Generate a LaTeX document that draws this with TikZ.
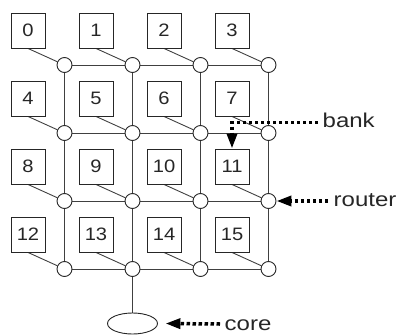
\documentclass[tikz,border=0pt]{standalone}
\usepackage{fontspec}
\setmainfont{Liberation Sans}
\usetikzlibrary{arrows.meta,shapes.geometric,backgrounds}
\newcommand{\wtxt}[1]{\scalebox{1.2}[1]{#1}}
\newcommand{\dtxt}[1]{\scalebox{1.12}[1]{#1}}
\begin{document}
\begin{tikzpicture}[x=1pt,y=-1pt,
  bankbox/.style={draw=black!85, line width=0.9pt, minimum width=34pt, minimum height=35pt, inner sep=0pt, font=\fontsize{18}{18}\selectfont, text=black!85},
  routernode/.style={circle, draw=black!85, fill=white, line width=0.9pt, minimum size=15pt, inner sep=0pt},
  wire/.style={draw=black!75, line width=0.9pt},
  pointer/.style={line width=3.5pt, dash pattern=on 3.5pt off 2.5pt, -{Triangle[length=15pt,width=10pt]}},
  lab/.style={anchor=base west, font=\fontsize{20}{20}\selectfont, inner sep=0pt, text=black!85}]
\useasboundingbox (0,0) rectangle (398,334);
% boxes and routers
\foreach \j in {0,...,3}{
  \foreach \i in {0,...,3}{
    \pgfmathtruncatemacro{\n}{4*\j+\i}
    \node[bankbox] (b\n) at ({28+68*\i},{30.5+68*\j}) {\dtxt{\n}};
    \node[routernode] (r\n) at ({64.5+68*\i},{65+68*\j}) {};
  }
}
% core
\node[ellipse, draw=black!85, line width=0.9pt, minimum width=50pt, minimum height=21pt, inner sep=0pt] (core) at (132.5,323.5) {};
% grid wires
\begin{scope}[on background layer]
\foreach \j in {0,...,3}{
  \foreach \i in {0,1,2}{
    \pgfmathtruncatemacro{\a}{4*\j+\i}
    \pgfmathtruncatemacro{\b}{4*\j+\i+1}
    \draw[wire] (r\a) -- (r\b);
  }
}
\foreach \j in {0,1,2}{
  \foreach \i in {0,...,3}{
    \pgfmathtruncatemacro{\a}{4*\j+\i}
    \pgfmathtruncatemacro{\b}{4*\j+\i+4}
    \draw[wire] (r\a) -- (r\b);
  }
}
\foreach \n in {0,...,15}{
  \draw[wire] (b\n.south) -- (r\n);
}
\draw[wire] (r13) -- (core);
\end{scope}
% labels
\node[lab] (bank) at (322.5,127) {\wtxt{bank}};
\node[lab] (router) at (333.5,206) {\wtxt{router}};
\node[lab] (corelab) at (224.5,330) {\wtxt{core}};
\coordinate (bankstart) at (318,122.5);
\coordinate (routerstart) at (328,201);
\coordinate (corestart) at (220,324);
\draw[pointer] (bankstart) -| (b11.north);
\draw[pointer] (routerstart) -- (r11);
\draw[pointer] (corestart) -- ([xshift=7.5pt]core.east);
\end{tikzpicture}
\end{document}
